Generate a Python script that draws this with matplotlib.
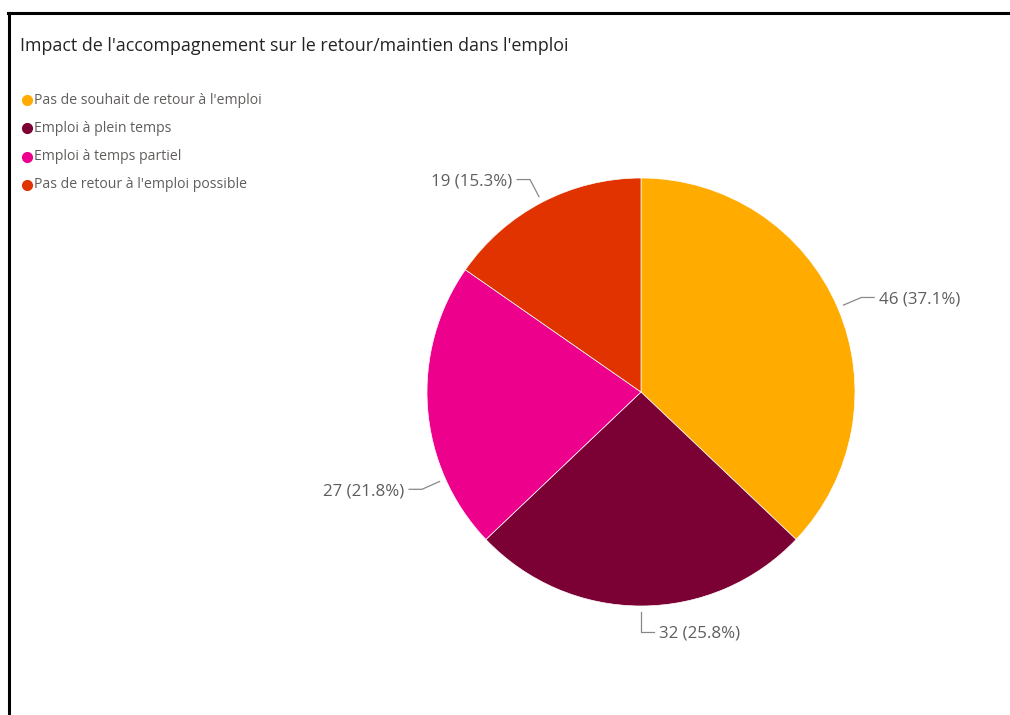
import matplotlib.pyplot as plt
import numpy as np
from matplotlib.lines import Line2D

title = "Impact de l'accompagnement sur le retour/maintien dans l'emploi"
categories = [
    "Pas de souhait de retour à l'emploi",
    "Emploi à plein temps",
    "Emploi à temps partiel",
    "Pas de retour à l'emploi possible",
]
values = [46, 32, 27, 19]
colors = ["#FFAB00", "#7B0033", "#EC008C", "#E13300"]
# where along each wedge the label leader attaches (fraction of wedge)
label_frac = [0.5, 0.5, 0.25, 0.5]

plt.rcParams['font.family'] = ['Open Sans', 'DejaVu Sans']

W, H = 1010, 715
fig = plt.figure(figsize=(W / 100, H / 100), dpi=100)

# frame lines (top and left)
fig.add_artist(Line2D([8 / W, 1.0], [1 - 12.5 / H, 1 - 12.5 / H], color="black", lw=2.2,
                      transform=fig.transFigure))
fig.add_artist(Line2D([8.5 / W, 8.5 / W], [0, 1 - 12.5 / H], color="black", lw=2.2,
                      transform=fig.transFigure))

fig.text(20 / W, 1 - 46 / H, title, fontsize=12.9, color="#252423", va="center", ha="left")

# legend
for i, (cat, c) in enumerate(zip(categories, colors)):
    y = 1 - (100 + i * 28.3) / H
    fig.add_artist(Line2D([27 / W], [y], marker="o", markersize=7, color=c, lw=0,
                          transform=fig.transFigure))
    fig.text(34 / W, y, cat, fontsize=10.1, color="#605E5C", va="center", ha="left")

# pie
cx, cy, R = 641, 392, 214
ax = fig.add_axes([(cx - R) / W, (H - cy - R) / H, 2 * R / W, 2 * R / H])
ax.pie(values, colors=colors, startangle=90, counterclock=False, radius=1,
       wedgeprops=dict(edgecolor="white", linewidth=0.5))
ax.set_xlim(-1, 1)
ax.set_ylim(-1, 1)
ax.set_aspect("equal")
ax.axis("off")

total = sum(values)
cum = np.cumsum([0] + values) / total
for i, v in enumerate(values):
    frac = cum[i] + label_frac[i] * (cum[i + 1] - cum[i])
    ang = np.deg2rad(90 - frac * 360)
    ca, sa = np.cos(ang), np.sin(ang)
    x0, y0 = 1.03 * ca, 1.03 * sa
    x1, y1 = 1.12 * ca, 1.12 * sa
    side = 1 if ca >= -0.01 else -1
    x2 = x1 + side * 0.06
    ax.plot([x0, x1, x2], [y0, y1, y1], color="#8A8886", lw=0.9, clip_on=False)
    ax.text(x2 + side * 0.022, y1 - 0.01, f"{v} ({v / total * 100:.1f}%)",
            fontsize=12.2, color="#605E5C", va="center",
            ha="left" if side > 0 else "right", clip_on=False)

fig.savefig("out.png", dpi=100)
